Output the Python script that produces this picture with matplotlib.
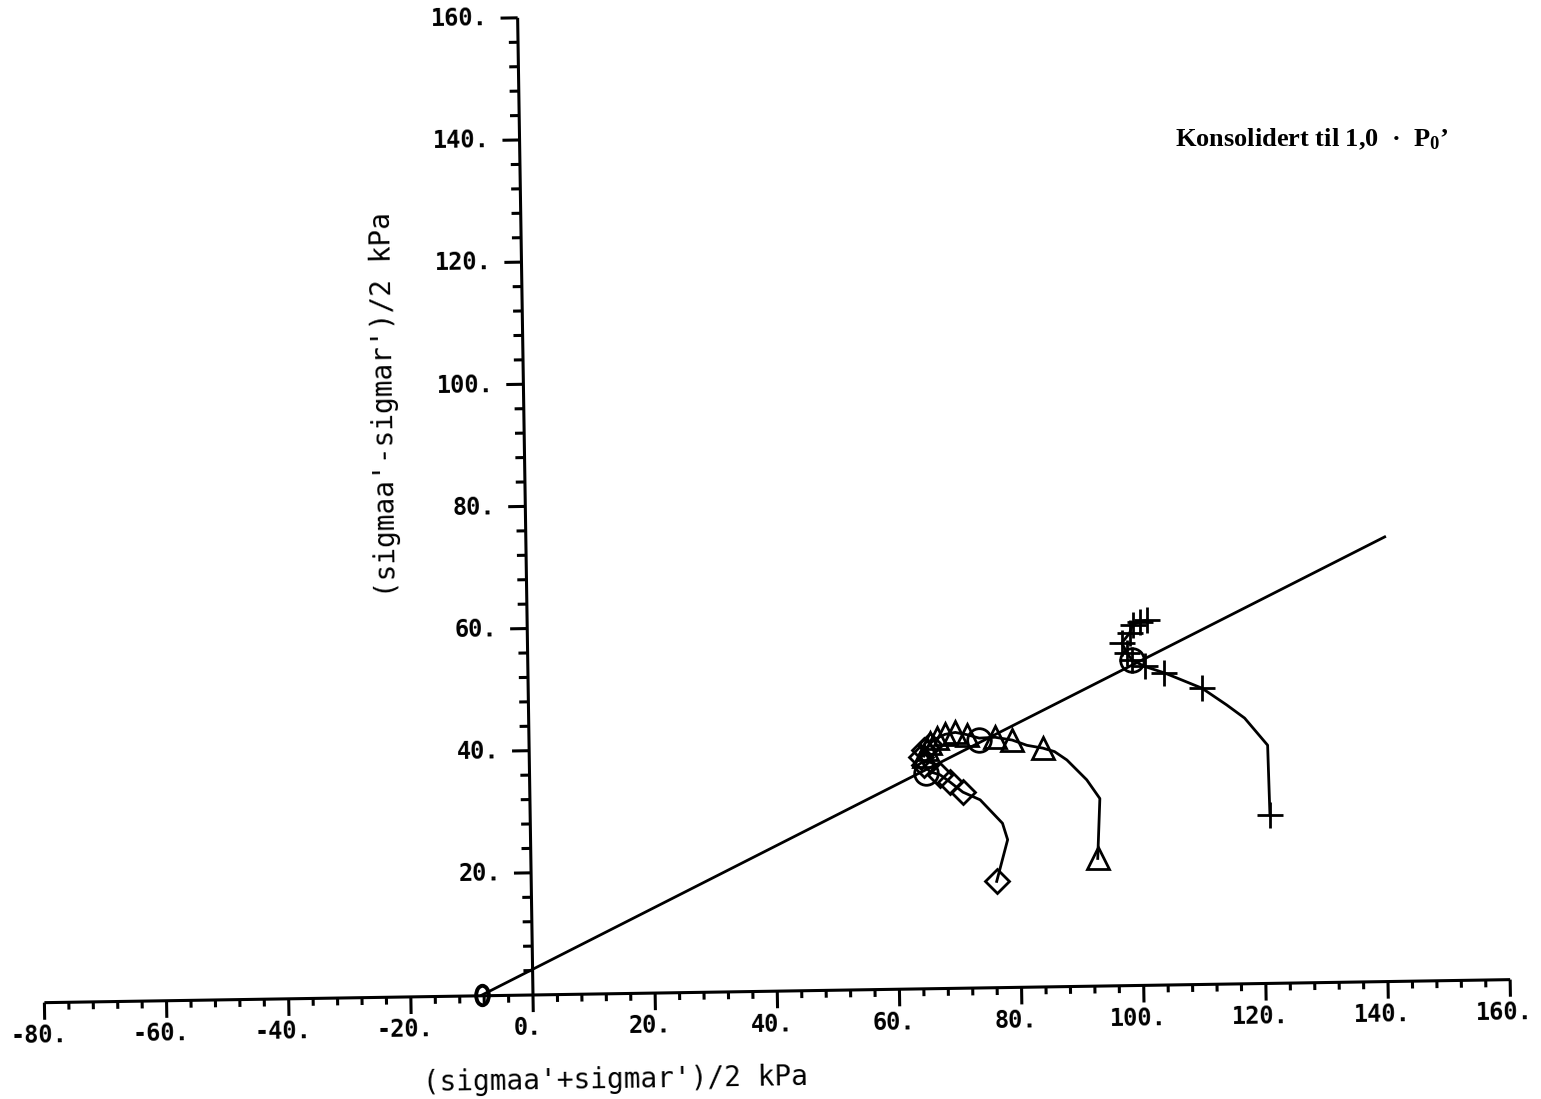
import matplotlib
matplotlib.use("Agg")
import matplotlib.pyplot as plt
import matplotlib.transforms as mtransforms
from matplotlib.path import Path
import numpy as np

plt.rcParams['mathtext.fontset'] = 'custom'
plt.rcParams['mathtext.rm'] = 'Liberation Serif:bold'
plt.rcParams['mathtext.it'] = 'Liberation Serif:bold'
plt.rcParams['mathtext.bf'] = 'Liberation Serif:bold'

## Data (kPa)

# test with diamonds
dia_x = [76.2, 78.1, 77.3, 73.7, 70.9, 68.8, 67.2, 65.6, 64.6, 64.1, 64.6, 65.6]
dia_y = [17.4, 24.2, 26.9, 30.8, 32.1, 33.8, 35.0, 35.5, 36.6, 37.95, 39.1, 39.9]
dia_mark = [0, 4, 5, 6, 8, 9, 10, 11]

# test with triangles
tri_x = [92.8, 93.3, 91.2, 88.0, 86.0, 84.1, 81.5, 79.1, 76.3, 73.7, 71.7,
         69.8, 68.1, 66.8, 65.7, 65.1, 64.6]
tri_y = [20.9, 30.7, 33.8, 37.1, 38.5, 39.1, 39.6, 40.5, 41.0, 40.9, 41.5,
         41.9, 41.6, 41.0, 40.2, 39.3, 38.1]
tri_mark = [0, 5, 7, 8, 10, 11, 12, 13, 14, 15, 16]

# test with plus signs
plu_x = [121.1, 120.9, 117.2, 114.3, 110.3, 104.2, 101.0, 98.9, 98.1, 97.3,
         98.1, 98.6, 99.1, 100.3, 101.5]
plu_y = [27.6, 39.0, 43.5, 45.7, 48.5, 51.1, 52.2, 53.3, 54.5, 56.1,
         57.1, 57.7, 59.1, 59.5, 59.8]
plu_mark = [0, 4, 5, 6, 7, 8, 9, 11, 12, 13, 14]

# failure points (circles)
fail_x = [64.9, 73.7, 98.9]
fail_y = [35.3, 40.6, 53.3]

# failure line
line_x = [-8.4, 140.6]
line_y = [0.1, 72.8]

xticks_major = [-80, -60, -40, -20, 0, 20, 40, 60, 80, 100, 120, 140, 160]
yticks_major = [20, 40, 60, 80, 100, 120, 140, 160]

## Figure

fig = plt.figure(figsize=(15.41, 10.99), dpi=100)
ax = fig.add_axes([0, 0, 1, 1])
ax.set_xlim(-87.26, 165.03)
ax.set_ylim(-17.03, 162.9)
ax.axis('off')

# the scanned sheet is turned a little
ox, oy = ax.transData.transform((0, 0))
tr = ax.transData + mtransforms.Affine2D().rotate_deg_around(ox, oy, 0.9)

lw_ax = 2.2
## Axes lines
ax.plot([-80, 160], [0, 0], color='k', lw=lw_ax, transform=tr, solid_capstyle='butt')
ax.plot([0, 0], [0, 160], color='k', lw=lw_ax, transform=tr, solid_capstyle='butt')

## Ticks
xt = np.arange(-80, 161, 4)
xlen = np.where(xt % 20 == 0, 2.8, 1.2)
ax.vlines(xt, -xlen, 0, color='k', lw=lw_ax, transform=tr)
yt = np.arange(4, 161, 4)
ylen = np.where(yt % 20 == 0, 2.8, 1.5)
ax.hlines(yt, -ylen, 0, color='k', lw=lw_ax, transform=tr)

tick_font = dict(family='DejaVu Sans Mono', fontsize=17, fontweight='bold')
for v in xticks_major:
    ax.text(v - 1.0, -5.4, "%d." % v, ha='center', va='center', rotation=0.9,
            rotation_mode='anchor', transform=tr, **tick_font)
for v in yticks_major:
    ax.text(-4.9, v, "%d." % v, ha='right', va='center', rotation=0.9,
            rotation_mode='anchor', transform=tr, **tick_font)

ax.text(13.2, -14.1, "(sigmaa'+sigmar')/2 kPa", ha='center', va='center',
        rotation=0.9, rotation_mode='anchor', transform=tr,
        family='DejaVu Sans Mono', fontsize=20)
ax.text(-22.7, 97.0, "(sigmaa'-sigmar')/2 kPa", ha='center', va='center',
        rotation=90.9, rotation_mode='anchor', transform=tr,
        family='DejaVu Sans Mono', fontsize=20)

## Failure line and start point
ax.plot(line_x, line_y, color='k', lw=2.0, transform=tr)
ell = Path.unit_circle().transformed(mtransforms.Affine2D().scale(0.65, 1.0))
ax.plot(line_x[:1], line_y[:1], linestyle='none', marker=ell, ms=14,
        mfc='none', mec='k', mew=2.8, transform=tr)

## Stress paths
mk = dict(linestyle='none', mfc='none', mec='k', mew=2.0, transform=tr)
ax.plot(dia_x, dia_y, color='k', lw=2.0, transform=tr)
ax.plot(np.array(dia_x)[dia_mark], np.array(dia_y)[dia_mark], marker='D', ms=12, **mk)

ax.plot(tri_x, tri_y, color='k', lw=2.0, transform=tr)
ax.plot(np.array(tri_x)[tri_mark], np.array(tri_y)[tri_mark], marker='^', ms=16, **mk)

ax.plot(plu_x, plu_y, color='k', lw=2.0, transform=tr)
ax.plot(np.array(plu_x)[plu_mark], np.array(plu_y)[plu_mark], marker='+', ms=19, **mk)

ax.plot(fail_x, fail_y, marker='o', ms=17, **mk)

## Note
fig.text(0.7625, 0.873, "Konsolidert til 1,0  \u00b7  P$_0$\u2019",
         family='Liberation Serif', fontweight='bold', fontsize=19,
         ha='left', va='center')

fig.savefig("out.png", dpi=100)
